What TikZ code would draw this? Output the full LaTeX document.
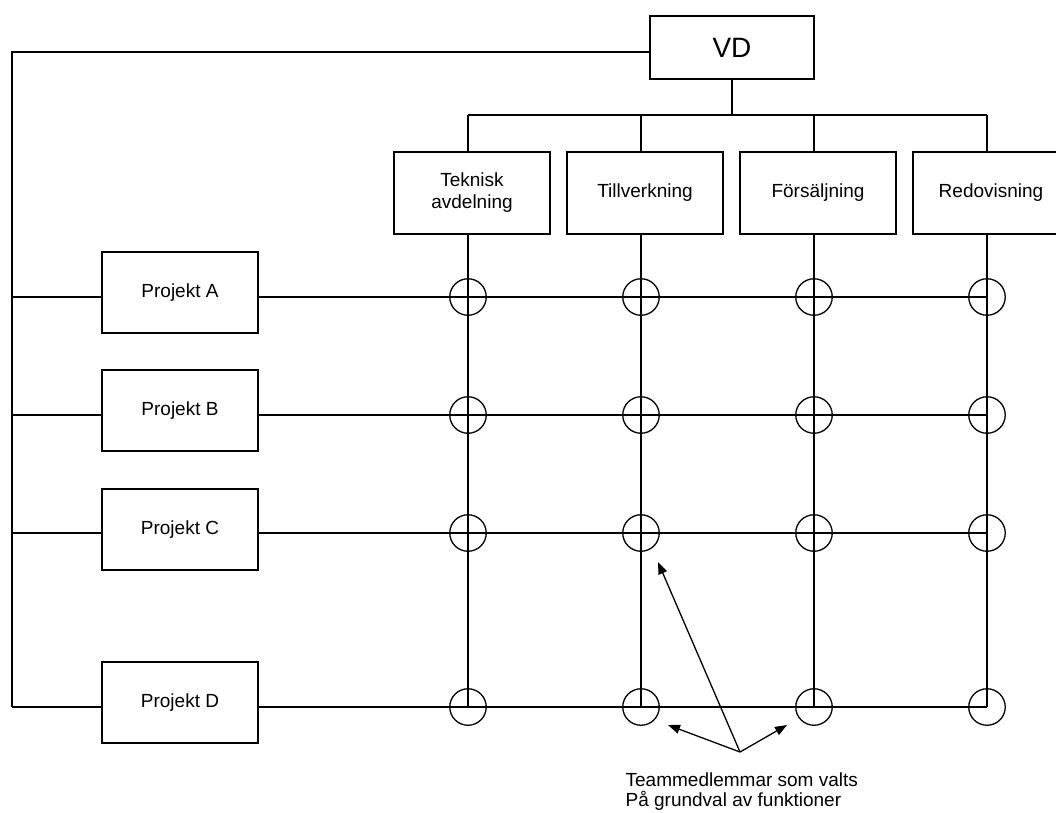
\documentclass[tikz,border=0pt]{standalone}
\usepackage{fontspec}
\setmainfont{Liberation Sans}
\usetikzlibrary{arrows.meta}
\begin{document}
\begin{tikzpicture}[x=1pt,y=-1pt,line width=1.3pt,
  every node/.style={font=\fontsize{19}{22}\selectfont},
  box/.style={draw,rectangle,inner sep=0pt,minimum width=156pt,minimum height=82pt,align=center},
  ring/.style={draw,circle,inner sep=0pt,minimum size=36.5pt},
  pointer/.style={-{Triangle[length=12pt,width=9pt]},line width=1.3pt}]
\useasboundingbox (0,0) rectangle (1056,812);

% top management
\node[draw,rectangle,inner sep=0pt,minimum width=164pt,minimum height=63pt,
      font=\fontsize{28}{30}\selectfont] (vd) at (732,47.5) {VD};

% functional departments
\node[box] (tek) at (472,193) {Teknisk\\avdelning};
\node[box] (til) at (645,193) {Tillverkning};
\node[box] (for) at (818,193) {Försäljning};
\node[box] (red) at (991,193) {Redovisning};

% projects
\node[box,minimum height=81pt] (pa) at (180,292.5) {Projekt A};
\node[box,minimum height=81pt] (pb) at (180,410.5) {Projekt B};
\node[box,minimum height=81pt] (pc) at (180,529.5) {Projekt C};
\node[box,minimum height=81pt] (pd) at (180,702.5) {Projekt D};

% grid anchors
\coordinate (bus) at (732,115);
\coordinate (c1) at (468,0); \coordinate (c2) at (641,0);
\coordinate (c3) at (814,0); \coordinate (c4) at (987,0);
\coordinate (ra) at (0,297); \coordinate (rb) at (0,415);
\coordinate (rc) at (0,533); \coordinate (rd) at (0,707);
\coordinate (spine) at (12,52);

% VD to departments
\draw (vd.south) -- (bus);
\draw (c1 |- bus) -- (c4 |- bus);
\foreach \c/\d in {c1/tek,c2/til,c3/for,c4/red}{
  \draw (\c |- bus) -- (\c |- \d.north);
  \draw (\c |- \d.south) -- (\c |- rd);
}

% VD to projects
\draw (vd.west |- spine) -- (spine) -- (spine |- rd);
\foreach \r/\p in {ra/pa,rb/pb,rc/pc,rd/pd}{
  \draw (spine |- \r) -- (\p.west |- \r);
  \draw (\p.east |- \r) -- (c4 |- \r);
}

% team members at each crossing
\foreach \r in {ra,rb,rc,rd}{
  \foreach \c in {c1,c2,c3,c4}{
    \node[ring] (\r\c) at (\c |- \r) {};
  }
}

% annotation
\coordinate (src) at (740,752);
\coordinate (t1) at (658,562);
\coordinate (t2) at (668,725);
\coordinate (t3) at (787,725);
\draw[pointer] (src) -- (t1);
\draw[pointer] (src) -- (t2);
\draw[pointer] (src) -- (t3);
\node[anchor=north west,align=left,inner sep=0pt,
      font=\fontsize{19}{20}\selectfont] (note) at (625,772)
  {Teammedlemmar som valts\\På grundval av funktioner};
\end{tikzpicture}
\end{document}
